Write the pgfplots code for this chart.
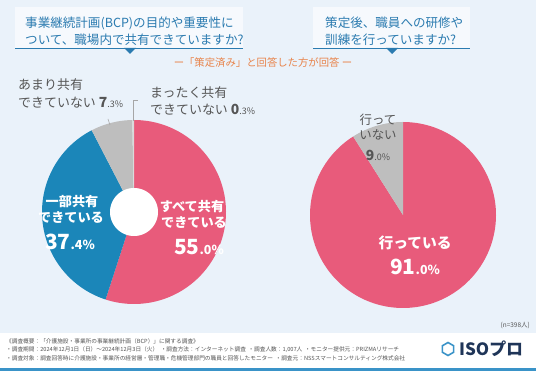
\documentclass[border=0pt]{standalone}
\usepackage{pgfplots}
\pgfplotsset{compat=1.18}
\usepackage{fontspec}
\setmainfont{Noto Sans CJK JP}
\definecolor{cpink}{HTML}{E85B7B}
\definecolor{cblue}{HTML}{1B86B9}
\definecolor{cgray}{HTML}{BEBEBE}
\definecolor{cgray2}{HTML}{DADADA}
\definecolor{ctitle}{HTML}{2B7BB0}
\definecolor{corange}{HTML}{E8834A}
\definecolor{cbg}{HTML}{EAF2FA}
\definecolor{cdark}{HTML}{555555}
\definecolor{cnavy}{HTML}{1F3558}
\definecolor{cline}{HTML}{3A93C8}
\begin{document}
\begin{tikzpicture}
\begin{axis}[hide axis, scale only axis, width=536bp, height=371bp,
  xmin=0, xmax=536, ymin=0, ymax=371, clip=false]
% background
\fill[cbg] (axis cs:0,38) rectangle (axis cs:536,371);
\fill[white] (axis cs:0,0) rectangle (axis cs:536,38);
\fill[cline] (axis cs:0,0.5) rectangle (axis cs:536,2.5);
% title boxes
\fill[white, opacity=0.6] (axis cs:15,323) rectangle (axis cs:243,364);
\fill[white, opacity=0.6] (axis cs:313,323) rectangle (axis cs:470,364);
\draw[ctitle, line width=0.8pt] (axis cs:15,323) -- (axis cs:243,323);
\draw[ctitle, line width=0.8pt] (axis cs:313,323) -- (axis cs:470,323);
\fill[ctitle] (axis cs:124,323) -- (axis cs:136,323) -- (axis cs:130,317) -- cycle;
\fill[ctitle] (axis cs:386,323) -- (axis cs:398,323) -- (axis cs:392,317) -- cycle;
\node[anchor=west, text=ctitle, font=\fontsize{12.6}{14}\selectfont, inner sep=0pt] at (axis cs:25,348) {事業継続計画(BCP)の目的や重要性に};
\node[anchor=west, text=ctitle, font=\fontsize{12.6}{14}\selectfont, inner sep=0pt] at (axis cs:25,331) {ついて、職場内で共有できていますか?};
\node[anchor=west, text=ctitle, font=\fontsize{12.6}{14}\selectfont, inner sep=0pt] at (axis cs:325,348) {策定後、職員への研修や};
\node[anchor=west, text=ctitle, font=\fontsize{12.6}{14}\selectfont, inner sep=0pt] at (axis cs:325,331) {訓練を行っていますか?};
\node[text=corange, font=\fontsize{10.4}{12}\selectfont, inner sep=0pt] at (axis cs:263,308) {ー「策定済み」と回答した方が回答 ー};
% left donut: 55.0, 37.4, 7.3, 0.3
\addplot[fill=cpink, draw=none, domain={90-55.0*3.6}:90, samples=120] ({134+92*cos(x)},{159+92*sin(x)}) -- (axis cs:134,159) -- cycle;
\addplot[fill=cblue, draw=none, domain={90-(55.0+37.4)*3.6}:{90-55.0*3.6}, samples=100] ({134+92*cos(x)},{159+92*sin(x)}) -- (axis cs:134,159) -- cycle;
\addplot[fill=cgray, draw=none, domain={90-(55.0+37.4+7.3)*3.6}:{90-(55.0+37.4)*3.6}, samples=30] ({134+92*cos(x)},{159+92*sin(x)}) -- (axis cs:134,159) -- cycle;
\addplot[fill=cgray2, draw=none, domain={90-(55.0+37.4+7.3+0.3)*3.6}:{90-(55.0+37.4+7.3)*3.6}, samples=5] ({134+92*cos(x)},{159+92*sin(x)}) -- (axis cs:134,159) -- cycle;
\addplot[fill=white, draw=none, domain=0:360, samples=80] ({134+24*cos(x)},{159+24*sin(x)}) -- cycle;
% leader lines
\draw[gray!70, line width=0.6pt] (axis cs:133,250) -- (axis cs:133,271) -- (axis cs:138,271);
\draw[gray!70, line width=0.6pt] (axis cs:110,246) -- (axis cs:108,252);
% left labels
\node[text=white, font=\bfseries\fontsize{13.2}{15}\selectfont, inner sep=0pt] at (axis cs:192,164) {すべて共有};
\node[text=white, font=\bfseries\fontsize{13.2}{15}\selectfont, inner sep=0pt] at (axis cs:194,148) {できている};
\node[text=white, font=\bfseries, inner sep=0pt] at (axis cs:199,124) {{\fontsize{21}{21}\selectfont 55}{\fontsize{12.5}{12.5}\selectfont .0\%}};
\node[text=white, font=\bfseries\fontsize{13.2}{15}\selectfont, inner sep=0pt] at (axis cs:72,169) {一部共有};
\node[text=white, font=\bfseries\fontsize{13.2}{15}\selectfont, inner sep=0pt] at (axis cs:71,153) {できている};
\node[text=white, font=\bfseries, inner sep=0pt] at (axis cs:70,129) {{\fontsize{21}{21}\selectfont 37}{\fontsize{12.5}{12.5}\selectfont .4\%}};
\node[anchor=west, text=cdark, font=\fontsize{13}{14}\selectfont, inner sep=0pt] at (axis cs:18,286) {あまり共有};
\node[anchor=west, text=cdark, font=\fontsize{13}{14}\selectfont, inner sep=0pt] at (axis cs:18,268) {できていない {\bfseries\fontsize{14}{14}\selectfont 7}{\fontsize{9}{9}\selectfont .3\%}};
\node[anchor=west, text=cdark, font=\fontsize{13}{14}\selectfont, inner sep=0pt] at (axis cs:150,278) {まったく共有};
\node[anchor=west, text=cdark, font=\fontsize{13}{14}\selectfont, inner sep=0pt] at (axis cs:150,261) {できていない {\bfseries\fontsize{14}{14}\selectfont 0}{\fontsize{9}{9}\selectfont .3\%}};
% right pie: 91.0, 9.0
\addplot[fill=cpink, draw=none, domain={90-91.0*3.6}:90, samples=150] ({403+93*cos(x)},{156+93*sin(x)}) -- (axis cs:403,156) -- cycle;
\addplot[fill=cgray, draw=none, domain={90-(91.0+9.0)*3.6}:{90-91.0*3.6}, samples=30] ({403+93*cos(x)},{156+93*sin(x)}) -- (axis cs:403,156) -- cycle;
\node[text=white, font=\bfseries\fontsize{14.8}{16}\selectfont, inner sep=0pt] at (axis cs:415,128) {行っている};
\node[text=white, font=\bfseries, inner sep=0pt] at (axis cs:415,104) {{\fontsize{21}{21}\selectfont 91}{\fontsize{12.5}{12.5}\selectfont .0\%}};
\node[text=cdark, font=\fontsize{12.5}{14}\selectfont, inner sep=0pt] at (axis cs:378,251) {行って};
\node[text=cdark, font=\fontsize{12.5}{14}\selectfont, inner sep=0pt] at (axis cs:378,236) {いない};
\node[text=cdark, inner sep=0pt] at (axis cs:378,216) {{\bfseries\fontsize{14}{14}\selectfont 9}{\fontsize{9}{9}\selectfont .0\%}};
% footer
\node[anchor=east, text=cdark, font=\fontsize{6.5}{8}\selectfont, inner sep=0pt] at (axis cs:530,46) {(n=398人)};
\node[anchor=west, text=cdark, font=\fontsize{5.7}{6}\selectfont, inner sep=0pt] at (axis cs:6,30) {《調査概要：「介護施設・事業所の事業継続計画（BCP）」に関する調査》};
\node[anchor=west, text=cdark, font=\fontsize{5.7}{6}\selectfont, inner sep=0pt] at (axis cs:6,21) {・調査期間：2024年12月1日（日）～2024年12月3日（火）\ \ ・調査方法：インターネット調査\ \ ・調査人数：1,007人\ \ ・モニター提供元：PRIZMAリサーチ};
\node[anchor=west, text=cdark, font=\fontsize{5.7}{6}\selectfont, inner sep=0pt] at (axis cs:6,13) {・調査対象：調査回答時に介護施設・事業所の経営層・管理職・危機管理部門の職員と回答したモニター\ \ ・調査元：NSSスマートコンサルティング株式会社};
\draw[cline, line width=1.6pt] (axis cs:448,28.5) -- (axis cs:453.6,25.25) -- (axis cs:453.6,18.75) -- (axis cs:448,15.5) -- (axis cs:442.4,18.75) -- (axis cs:442.4,25.25) -- cycle;
\node[anchor=west, text=cnavy, font=\bfseries\fontsize{17}{18}\selectfont, inner sep=0pt] at (axis cs:459,22) {ISOプロ};
\end{axis}
\end{tikzpicture}
\end{document}
